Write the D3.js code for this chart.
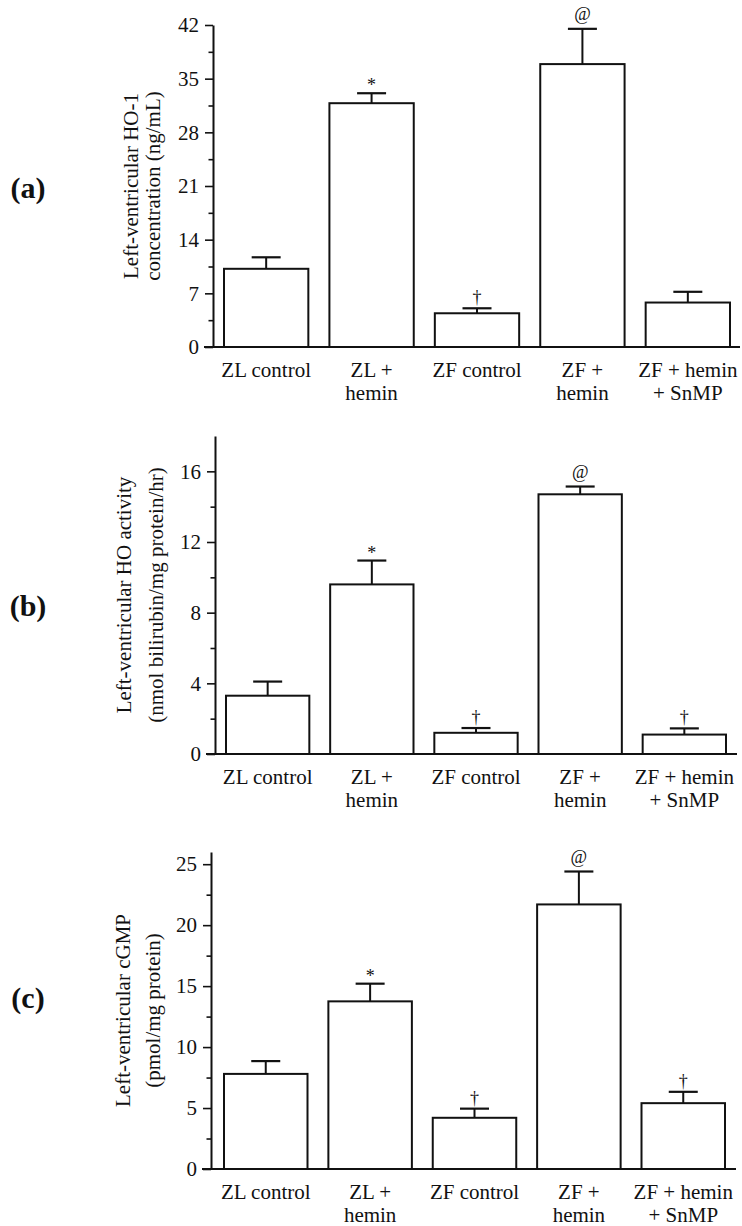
<!DOCTYPE html>
<html>
<head>
<meta charset="utf-8">
<script src="https://cdn.jsdelivr.net/npm/d3@7"></script>
<style>
  body { margin: 0; background: #fff; }
  text { font-family: "Liberation Serif", "Times New Roman", serif; fill: #111; }
</style>
</head>
<body>
<svg id="chart" width="742" height="1226"></svg>
<script>
// DATA
var groups = [["ZL control"], ["ZL +", "hemin"], ["ZF control"], ["ZF +", "hemin"], ["ZF + hemin", "+ SnMP"]];

// (a) HO-1 concentration
var ho1Mean = [10.2, 31.8, 4.4, 36.9, 5.8];
var ho1Err = [1.5, 1.3, 0.65, 4.6, 1.4];
var ho1Marks = ["", "*", "\u2020", "@", ""];
var ho1Ticks = [0, 7, 14, 21, 28, 35, 42];
var ho1Minor = [3.5, 10.5, 17.5, 24.5, 31.5, 38.5];
var ho1Label = ["Left-ventricular HO-1", "concentration (ng/mL)"];

// (b) HO activity
var hoActMean = [3.3, 9.6, 1.2, 14.7, 1.1];
var hoActErr = [0.8, 1.35, 0.27, 0.44, 0.35];
var hoActMarks = ["", "*", "\u2020", "@", "\u2020"];
var hoActTicks = [0, 4, 8, 12, 16];
var hoActMinor = [2, 6, 10, 14];
var hoActLabel = ["Left-ventricular HO activity", "(nmol bilirubin/mg protein/hr)"];

// (c) cGMP
var cgmpMean = [7.8, 13.75, 4.2, 21.7, 5.4];
var cgmpErr = [1.05, 1.45, 0.75, 2.7, 0.93];
var cgmpMarks = ["", "*", "\u2020", "@", "\u2020"];
var cgmpTicks = [0, 5, 10, 15, 20, 25];
var cgmpMinor = [2.5, 7.5, 12.5, 17.5, 22.5];
var cgmpLabel = ["Left-ventricular cGMP", "(pmol/mg protein)"];

var svg = d3.select('#chart');

// layout of each panel (pixels), data comes from the arrays above
var panels = [
  { tag: '(a)', mean: ho1Mean, err: ho1Err, marks: ho1Marks, ticks: ho1Ticks, minor: ho1Minor,
    label: ho1Label, max: 42, axisX: 213, top: 25, bottom: 347, barL: 224, barR: 730, lineR: 740,
    labelX: [131, 153], tagY: 187 },
  { tag: '(b)', mean: hoActMean, err: hoActErr, marks: hoActMarks, ticks: hoActTicks, minor: hoActMinor,
    label: hoActLabel, max: 18, axisX: 215, top: 436, bottom: 754, barL: 226, barR: 726, lineR: 737,
    labelX: [124, 156], tagY: 605 },
  { tag: '(c)', mean: cgmpMean, err: cgmpErr, marks: cgmpMarks, ticks: cgmpTicks, minor: cgmpMinor,
    label: cgmpLabel, max: 26, axisX: 211, top: 852, bottom: 1169, barL: 224, barR: 725, lineR: 736,
    labelX: [123, 153], tagY: 997 }
];

// vertical offset of the significance mark above the error cap
var markOffset = { '*': 2, '\u2020': 5, '@': 9 };

panels.forEach(function (p) {
  var g = svg.append('g');

  var x = d3.scaleBand()
    .domain(d3.range(groups.length))
    .range([p.barL, p.barR])
    .paddingInner(0.2)
    .paddingOuter(0);

  var y = d3.scaleLinear()
    .domain([0, p.max])
    .range([p.bottom, p.top]);

  // minor ticks
  g.append('g')
    .attr('transform', 'translate(' + p.axisX + ',0)')
    .call(d3.axisLeft(y).tickValues(p.minor).tickSize(4.5).tickSizeOuter(0).tickFormat(''))
    .call(function (s) {
      s.select('.domain').remove();
      s.selectAll('line').attr('stroke', '#111').attr('stroke-width', 1.6);
    });

  // major ticks + axis line
  g.append('g')
    .attr('transform', 'translate(' + p.axisX + ',0)')
    .call(d3.axisLeft(y).tickValues(p.ticks).tickSize(8).tickSizeOuter(0).tickPadding(6))
    .call(function (s) {
      s.select('.domain').attr('stroke', '#111').attr('stroke-width', 2);
      s.selectAll('line').attr('stroke', '#111').attr('stroke-width', 1.6);
      s.selectAll('text')
        .attr('font-family', '"Liberation Serif", serif')
        .attr('font-size', 21)
        .attr('fill', '#111');
    });

  // baseline
  g.append('line')
    .attr('x1', p.axisX - 9)
    .attr('x2', p.lineR)
    .attr('y1', y(0))
    .attr('y2', y(0))
    .attr('stroke', '#111')
    .attr('stroke-width', 2);

  var items = g.selectAll('g.bar')
    .data(p.mean.map(function (m, i) {
      return { i: i, mean: m, err: p.err[i], mark: p.marks[i] };
    }))
    .enter()
    .append('g')
    .attr('class', 'bar');

  // error bars (drawn first so the bar outline sits on top)
  items.append('line')
    .attr('x1', function (d) { return x(d.i) + x.bandwidth() / 2; })
    .attr('x2', function (d) { return x(d.i) + x.bandwidth() / 2; })
    .attr('y1', function (d) { return y(d.mean); })
    .attr('y2', function (d) { return y(d.mean + d.err); })
    .attr('stroke', '#111')
    .attr('stroke-width', 2);
  items.append('line')
    .attr('x1', function (d) { return x(d.i) + x.bandwidth() / 2 - 14.5; })
    .attr('x2', function (d) { return x(d.i) + x.bandwidth() / 2 + 14.5; })
    .attr('y1', function (d) { return y(d.mean + d.err); })
    .attr('y2', function (d) { return y(d.mean + d.err); })
    .attr('stroke', '#111')
    .attr('stroke-width', 2.2);

  items.append('rect')
    .attr('x', function (d) { return x(d.i); })
    .attr('y', function (d) { return y(d.mean); })
    .attr('width', x.bandwidth())
    .attr('height', function (d) { return y(0) - y(d.mean); })
    .attr('fill', '#fff')
    .attr('stroke', '#111')
    .attr('stroke-width', 2);

  items.filter(function (d) { return d.mark; })
    .append('text')
    .attr('x', function (d) { return x(d.i) + x.bandwidth() / 2; })
    .attr('y', function (d) { return y(d.mean + d.err) - markOffset[d.mark]; })
    .attr('text-anchor', 'middle')
    .attr('font-size', 18)
    .text(function (d) { return d.mark; });

  // category labels
  items.append('text')
    .attr('text-anchor', 'middle')
    .attr('font-size', 21)
    .selectAll('tspan')
    .data(function (d) {
      return groups[d.i].map(function (t, k) {
        return { t: t, k: k, cx: x(d.i) + x.bandwidth() / 2 };
      });
    })
    .enter()
    .append('tspan')
    .attr('x', function (d) { return d.cx; })
    .attr('y', function (d) { return y(0) + 30 + d.k * 23; })
    .text(function (d) { return d.t; });

  // y label (two lines, rotated)
  var midY = (p.top + p.bottom) / 2;
  p.label.forEach(function (line, k) {
    g.append('text')
      .attr('transform', 'translate(' + p.labelX[k] + ',' + midY + ') rotate(-90)')
      .attr('text-anchor', 'middle')
      .attr('dominant-baseline', 'central')
      .attr('font-size', 21)
      .text(line);
  });

  // panel tag
  svg.append('text')
    .attr('x', 28)
    .attr('y', p.tagY)
    .attr('text-anchor', 'middle')
    .attr('dominant-baseline', 'central')
    .attr('font-size', 30)
    .attr('font-weight', 'bold')
    .attr('fill', '#000')
    .text(p.tag);
});
</script>
</body>
</html>
